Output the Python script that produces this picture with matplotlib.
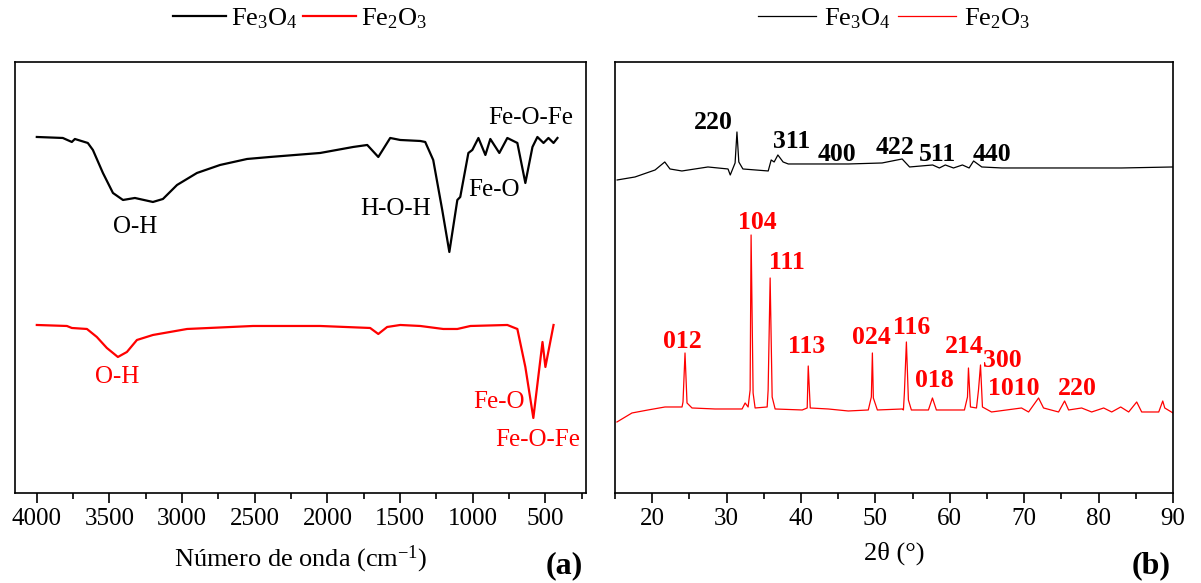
import matplotlib
matplotlib.use("Agg")
import matplotlib.pyplot as plt
from matplotlib.ticker import MultipleLocator

plt.rcParams['font.family'] = ['Liberation Serif', 'DejaVu Serif']
plt.rcParams['mathtext.fontset'] = 'custom'
plt.rcParams['mathtext.rm'] = 'Liberation Serif'
plt.rcParams['mathtext.it'] = 'Liberation Serif:italic'
plt.rcParams['mathtext.bf'] = 'Liberation Serif:bold'

# FTIR (a): wavenumber (cm-1) and transmittance (a.u.)
ftir_fe3o4_wn = [4000, 3821, 3759, 3738, 3649, 3614, 3545, 3476, 3407, 3325, 3201, 3132,
                 3035, 2898, 2739, 2553, 2395, 2050, 1823, 1726, 1650, 1568, 1499, 1361,
                 1327, 1272, 1210, 1161, 1106, 1086, 1030, 1003, 961, 913, 879, 817, 762,
                 693, 638, 589, 555, 513, 479, 444, 417]
ftir_fe3o4_t = [356, 355, 351, 354, 350, 343, 320, 300, 293, 295, 291, 294,
                308, 320, 328, 334, 336, 340, 346, 348, 336, 355, 353, 352,
                351, 333, 283, 241, 293, 296, 340, 343, 355, 338, 354, 340, 355,
                350, 310, 346, 356, 350, 355, 350, 355]

ftir_fe2o3_wn = [4000, 3793, 3759, 3655, 3587, 3518, 3442, 3380, 3311, 3201, 2966, 2512,
                 2050, 1706, 1650, 1589, 1499, 1361, 1203, 1106, 1016, 762, 693, 638,
                 583, 520, 500, 444]
ftir_fe2o3_t = [168, 167, 165, 164, 156, 145, 136, 141, 153, 158, 164, 167,
                167, 165, 159, 166, 168, 167, 164, 164, 167, 168, 164, 126,
                75, 151, 126, 168]

# XRD (b): 2theta (deg) and intensity (a.u.)
xrd_fe3o4_2t = [15.3, 17.7, 20.4, 21.7, 22.4, 24.0, 27.5, 30.2, 30.5, 31.15, 31.4, 31.65,
                32.2, 35.6, 36.0, 36.4, 36.9, 37.6, 38.3, 41.9, 46.4, 50.9, 53.6, 54.6,
                57.7, 58.6, 59.4, 60.5, 61.7, 62.6, 63.2, 64.3, 67.0, 75.3, 83.1, 90.0]
xrd_fe3o4_i = [313, 316, 323, 331, 324, 322, 326, 324, 318, 330, 361, 331,
               324, 322, 333, 331, 338, 331, 329, 329, 329, 330, 334, 326,
               328, 325, 328, 325, 328, 325, 332, 326, 325, 325, 325, 326]

xrd_fe2o3_2t = [15.27, 17.29, 19.44, 21.73, 24.02, 24.15, 24.42, 24.69, 25.36, 28.46,
                32.09, 32.50, 32.90, 33.17, 33.30, 33.57, 33.84, 35.46, 35.59, 35.86,
                36.13, 36.53, 40.17, 40.84, 40.98, 41.25, 43.67, 46.36, 49.05, 49.46,
                49.60, 49.73, 50.27, 53.63, 53.77, 53.90, 54.17, 54.44, 54.84, 57.13,
                57.67, 58.20, 61.97, 62.38, 62.51, 62.78, 63.59, 63.86, 64.13, 64.39,
                65.61, 69.64, 70.59, 71.93, 72.60, 74.62, 75.43, 75.97, 77.72, 79.07,
                80.68, 81.76, 82.97, 84.04, 85.12, 85.79, 88.08, 88.62, 88.89, 90.0]
xrd_fe2o3_i = [71, 80, 83, 86, 86, 91, 140, 90, 85, 84,
               84, 90, 86, 103, 258, 100, 85, 86, 103, 215,
               96, 84, 83, 85, 127, 85, 84, 82, 83, 96,
               140, 95, 83, 84, 83, 100, 151, 93, 83, 83,
               95, 83, 83, 96, 125, 86, 85, 103, 128, 86,
               81, 85, 81, 95, 85, 81, 92, 83, 85, 81,
               85, 81, 86, 81, 91, 81, 81, 92, 85, 80]

# band / peak labels: text, x, y
ftir_fe3o4_labels = [('O-H', 3325, 266), ('H-O-H', 1533, 284), ('Fe-O', 851, 303),
                     ('Fe-O-Fe', 603, 375)]
ftir_fe2o3_labels = [('O-H', 3449, 116), ('Fe-O', 817, 91), ('Fe-O-Fe', 555, 53)]
xrd_fe3o4_labels = [('220', 28.2, 370), ('311', 38.8, 351), ('400', 44.8, 338),
                    ('422', 52.6, 345), ('511', 58.3, 338), ('440', 65.6, 338)]
xrd_fe2o3_labels = [('012', 24.1, 151), ('104', 34.2, 270), ('111', 38.1, 230),
                    ('113', 40.8, 146), ('024', 49.4, 155), ('116', 54.9, 165),
                    ('018', 57.9, 112), ('214', 61.9, 146), ('300', 67.1, 132),
                    ('1010', 68.6, 104), ('220', 77.2, 104)]

fig = plt.figure(figsize=(12.01, 5.83), dpi=100)
ax1 = fig.add_axes([0.0125, 0.1544, 0.4755, 0.7393])
ax2 = fig.add_axes([0.512, 0.1544, 0.4647, 0.7393])

# (a) FTIR
ax1.plot(ftir_fe3o4_wn, ftir_fe3o4_t, color='black', lw=1.6, label='Fe$_3$O$_4$')
ax1.plot(ftir_fe2o3_wn, ftir_fe2o3_t, color='red', lw=1.6, label='Fe$_2$O$_3$')
for txt, x, y in ftir_fe3o4_labels:
    ax1.text(x, y, txt, color='black', fontsize=18, ha='center', va='center')
for txt, x, y in ftir_fe2o3_labels:
    ax1.text(x, y, txt, color='red', fontsize=18, ha='center', va='center')
ax1.set_xlim(4150, 220)
ax1.set_ylim(0, 431)
ax1.xaxis.set_major_locator(MultipleLocator(500))
ax1.xaxis.set_minor_locator(MultipleLocator(250))
ax1.set_xlabel('Número de onda (cm$^{-1}$)', fontsize=19, labelpad=10)
ax1.text(0.995, -0.168, '(a)', transform=ax1.transAxes, fontsize=23,
         fontweight='bold', ha='right', va='center')
ax1.legend(loc='center', bbox_to_anchor=(0.5, 1.1), ncol=2, frameon=False,
           fontsize=19, handlelength=2.0, handletextpad=0.2, columnspacing=0.2)

# (b) XRD
ax2.plot(xrd_fe3o4_2t, xrd_fe3o4_i, color='black', lw=0.9, label='Fe$_3$O$_4$')
ax2.plot(xrd_fe2o3_2t, xrd_fe2o3_i, color='red', lw=0.9, label='Fe$_2$O$_3$')
for txt, x, y in xrd_fe3o4_labels:
    ax2.text(x, y, txt, color='black', fontsize=18.5, fontweight='bold',
             ha='center', va='center')
for txt, x, y in xrd_fe2o3_labels:
    ax2.text(x, y, txt, color='red', fontsize=18.5, fontweight='bold',
             ha='center', va='center')
ax2.set_xlim(15, 90)
ax2.set_ylim(0, 431)
ax2.xaxis.set_major_locator(MultipleLocator(10))
ax2.xaxis.set_minor_locator(MultipleLocator(5))
ax2.set_xlabel('2θ (°)', fontsize=19, labelpad=8)
ax2.text(0.995, -0.168, '(b)', transform=ax2.transAxes, fontsize=23,
         fontweight='bold', ha='right', va='center')
ax2.legend(loc='center', bbox_to_anchor=(0.5, 1.1), ncol=2, frameon=False,
           fontsize=19, handlelength=2.2, handletextpad=0.3, columnspacing=0.3)

for ax in (ax1, ax2):
    ax.set_yticks([])
    for s in ax.spines.values():
        s.set_linewidth(1.2)
    ax.tick_params(axis='x', which='major', direction='out', length=7, width=1.2,
                   labelsize=18, pad=4)
    ax.tick_params(axis='x', which='minor', direction='out', length=4, width=1.2)

fig.savefig('out.png', dpi=100)
